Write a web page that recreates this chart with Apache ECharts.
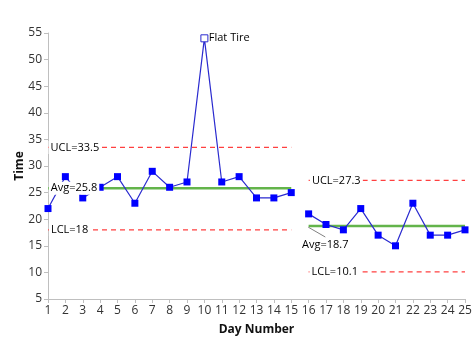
<!DOCTYPE html>
<html><head><meta charset="utf-8">
<script src="https://cdn.jsdelivr.net/npm/echarts@6/dist/echarts.min.js"></script>
<style>html,body{margin:0;padding:0;background:#fff}#c{width:474px;height:340px}</style>
</head><body><div id="c"></div>
<script>
const days1 = [1,2,3,4,5,6,7,8,9,10,11,12,13,14,15];
const values1 = [22,28,24,26,28,23,29,26,27,54,27,28,24,24,25];
const days2 = [16,17,18,19,20,21,22,23,24,25];
const values2 = [21,19,18,22,17,15,23,17,17,18];
const avg1 = 25.8, ucl1 = 33.5, lcl1 = 18;
const avg2 = 18.7, ucl2 = 27.3, lcl2 = 10.1;
const flatTireDay = 10;

const labelFont = 'Open Sans, Liberation Sans, sans-serif';
const chart = echarts.init(document.getElementById('c'));

function limitLine(x0, x1, y, color, dashed, width) {
  return {
    type: 'line', data: [[x0, y], [x1, y]], symbol: 'none', silent: true,
    lineStyle: { color: color, width: width, type: dashed ? [5, 4] : 'solid' }, z: 2
  };
}
function textLabel(x, y, text, bg) {
  return {
    type: 'scatter', data: [[x, y]], symbolSize: 0, silent: true, z: 20,
    itemStyle: { opacity: 1, color: '#000' },
    label: { show: true, position: 'inside', formatter: text, color: '#000',
      fontSize: 11, fontFamily: labelFont, fontWeight: 500, opacity: 1,
      textBorderWidth: 0,
      backgroundColor: bg ? '#fff' : 'transparent', padding: [1, 2] }
  };
}
const pts1 = days1.map((d, i) => {
  const p = { value: [d, values1[i]] };
  if (d === flatTireDay) p.itemStyle = { color: '#fff', borderColor: '#2A2ACF', borderWidth: 1 };
  return p;
});
const pts2 = days2.map((d, i) => [d, values2[i]]);
const dataSeries = (data) => ({
  type: 'line', data: data, symbol: 'rect', symbolSize: 7,
  itemStyle: { color: '#0000FF' }, lineStyle: { color: '#2A2ACF', width: 1.2 }, z: 5
});

chart.setOption({
  animation: false,
  grid: { left: 48, right: 9, top: 33, bottom: 41, containLabel: false, outerBoundsMode: 'none' },
  xAxis: {
    type: 'value', min: 1, max: 25, interval: 1,
    name: 'Day Number', nameLocation: 'middle', nameGap: 25, nameMoveOverlap: false,
    nameTextStyle: { fontWeight: 'bold', fontSize: 12, color: '#111', fontFamily: labelFont },
    axisLine: { lineStyle: { color: '#BFBFBF' } },
    axisTick: { show: true, length: 4, lineStyle: { color: '#BFBFBF' } },
    axisLabel: { color: '#333', fontSize: 12, fontFamily: labelFont, margin: 6 },
    splitLine: { show: false }
  },
  yAxis: {
    type: 'value', min: 5, max: 55, interval: 5,
    name: 'Time', nameLocation: 'middle', nameGap: 22, nameRotate: 90, nameMoveOverlap: false,
    nameTextStyle: { fontWeight: 'bold', fontSize: 12, color: '#111', fontFamily: labelFont },
    axisLine: { show: true, lineStyle: { color: '#BFBFBF' } },
    axisTick: { show: true, length: 4, lineStyle: { color: '#BFBFBF' } },
    axisLabel: { color: '#333', fontSize: 12, fontFamily: labelFont, margin: 6 },
    splitLine: { show: false }
  },
  series: [
    limitLine(1, 15, ucl1, '#FF4040', true, 1.2),
    limitLine(1, 15, lcl1, '#FF4040', true, 1.2),
    limitLine(1, 15, avg1, '#63B44B', false, 2.5),
    limitLine(16, 25, ucl2, '#FF4040', true, 1.2),
    limitLine(16, 25, lcl2, '#FF4040', true, 1.2),
    limitLine(16, 25, avg2, '#63B44B', false, 2.5),
    dataSeries(pts1),
    dataSeries(pts2),
    { type: 'line', data: [[15.98, 18.5], [16.96, 16.65]], symbol: 'none', silent: true,
      lineStyle: { color: '#808080', width: 1 }, z: 3 },
    textLabel(2.55, ucl1, 'UCL=33.5', true),
    textLabel(2.5, avg1, 'Avg=25.8', true),
    textLabel(2.24, lcl1, 'LCL=18', true),
    textLabel(17.59, ucl2, 'UCL=27.3', true),
    textLabel(17.5, lcl2, 'LCL=10.1', true),
    textLabel(16.96, 15.15, 'Avg=18.7', false),
    textLabel(11.43, 54.06, 'Flat Tire', false)
  ]
});
</script></body></html>
